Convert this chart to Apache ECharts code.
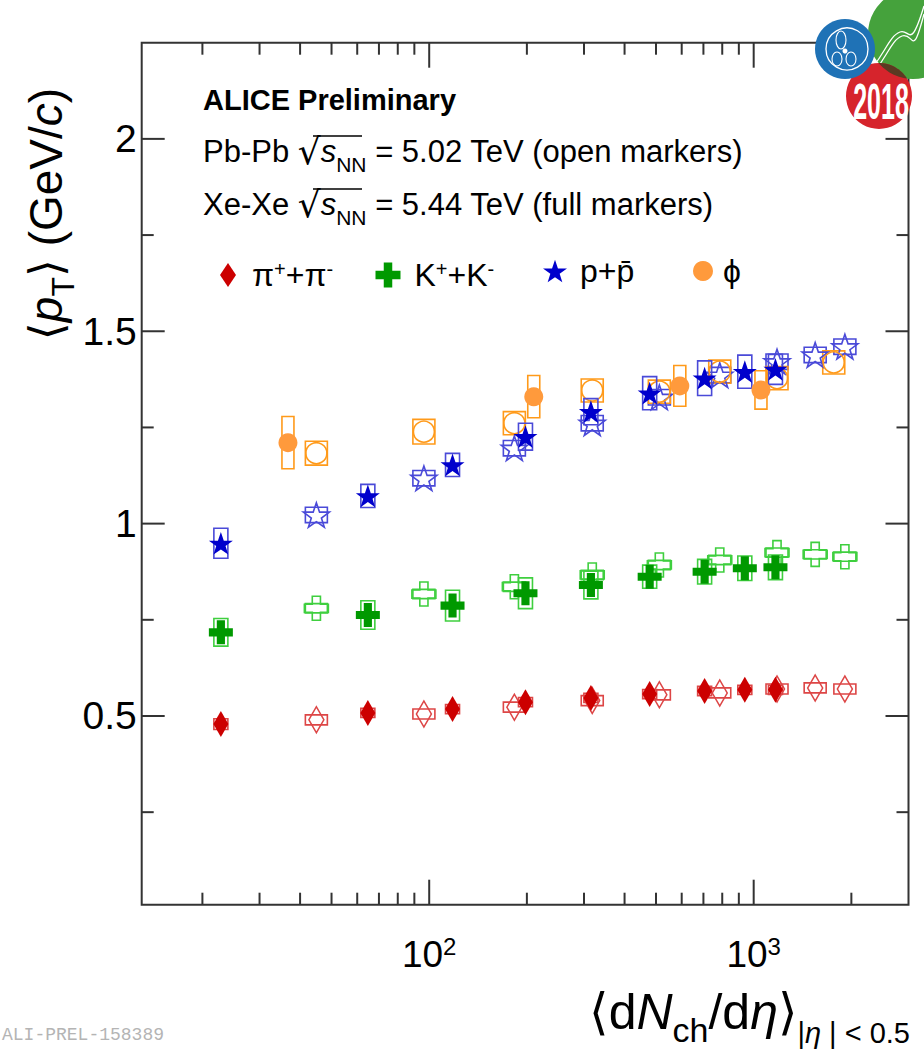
<!DOCTYPE html>
<html>
<head>
<meta charset="utf-8">
<script src="https://cdn.jsdelivr.net/npm/echarts@6/dist/echarts.min.js"></script>
<style>
  html, body { margin: 0; padding: 0; background: #ffffff; }
  #chart { width: 924px; height: 1049px; }
</style>
</head>
<body>
<div id="chart"></div>
<script>
// Charged-particle multiplicity <dNch/deta> of the centrality classes
const xeXeMult    = [22.8, 64.7, 118, 198, 315, 478, 706, 939, 1167];
const pbPbMult    = [44.9, 96.3, 183, 318, 512, 786, 1180, 1547, 1910];
const xeXePhiMult = [36.7, 210, 592, 1053];
const pbPbPhiMult = [44.9, 96.3, 183, 318, 512, 786, 1180, 1765];

// Mean transverse momentum <pT> (GeV/c) and systematic uncertainties
const piXeXe     = [0.479, 0.508, 0.518, 0.536, 0.547, 0.557, 0.565, 0.568, 0.568];
const piXeXeSys  = [0.014, 0.012, 0.012, 0.012, 0.012, 0.012, 0.012, 0.012, 0.012];
const piPbPb     = [0.490, 0.505, 0.523, 0.540, 0.555, 0.560, 0.570, 0.573, 0.570];
const piPbPbSys  = [0.013, 0.013, 0.013, 0.013, 0.013, 0.013, 0.013, 0.013, 0.013];

const kXeXe      = [0.7175, 0.7625, 0.787, 0.819, 0.8405, 0.862, 0.875, 0.884, 0.8865];
const kXeXeSys   = [0.036, 0.037, 0.040, 0.040, 0.036, 0.030, 0.032, 0.032, 0.032];
const kPbPb      = [0.780, 0.817, 0.836, 0.8665, 0.8925, 0.9055, 0.9245, 0.920, 0.914];
const kPbPbSys   = [0.012, 0.012, 0.012, 0.012, 0.012, 0.012, 0.012, 0.012, 0.012];

const pXeXe      = [0.949, 1.072, 1.1525, 1.226, 1.291, 1.339, 1.378, 1.395, 1.401];
const pXeXeSys   = [0.039, 0.030, 0.030, 0.035, 0.034, 0.043, 0.045, 0.043, 0.039];
const pPbPb      = [1.0225, 1.118, 1.196, 1.261, 1.3285, 1.386, 1.421, 1.4385, 1.460];
const pPbPbSys   = [0.020, 0.020, 0.020, 0.020, 0.020, 0.020, 0.020, 0.020, 0.020];

const phiXeXe    = [1.2105, 1.330, 1.358, 1.3475];
const phiXeXeSys = [0.068, 0.055, 0.053, 0.050];
const phiPbPb    = [1.183, 1.239, 1.261, 1.346, 1.343, 1.395, 1.378, 1.419];
const phiPbPbSys = [0.031, 0.032, 0.030, 0.030, 0.030, 0.030, 0.030, 0.030];

// Axis ranges and ticks
const X_MIN = 13, X_MAX = 3000;
const Y_MIN = 0.0095, Y_MAX = 2.25;
const xMajorTicks = [100, 1000];
const xMinorTicks = [20, 30, 40, 50, 60, 70, 80, 90, 200, 300, 400, 500, 600, 700, 800, 900, 2000];
const yMajorTicks = [0.5, 1, 1.5, 2];
const yMinorTicks = [0.25, 0.75, 1.25, 1.75];

const FONT = '"Liberation Sans", Arial, Helvetica, sans-serif';
const FRAME = '#333333';

const COLORS = {
  pi:  { full: '#cc0000', open: '#dd4646' },
  k:   { full: '#009900', open: '#3fcf3f' },
  p:   { full: '#0000cc', open: '#4a4ad8' },
  phi: { full: '#ff9a3c', open: '#ff9a1a' }
};

const STAR  = 'path://M50,0 L61.8,35.1 L98.1,35.1 L68.7,56.9 L79.4,91 L50,70.1 L20.6,91 L31.3,56.9 L1.9,35.1 L38.2,35.1 Z';
const CROSS = 'path://M33,0 L67,0 L67,33 L100,33 L100,67 L67,67 L67,100 L33,100 L33,67 L0,67 L0,33 L33,33 Z';

function points(xs, ys) { return xs.map((x, i) => [x, ys[i]]); }

// systematic uncertainty boxes, fixed width in pixels
function sysBoxes(name, xs, ys, es, color, width, z) {
  return {
    type: 'custom', name: name, silent: true, z: z, clip: false,
    data: xs.map((x, i) => [x, ys[i], es[i]]),
    renderItem: function (params, api) {
      const x = api.value(0), y = api.value(1), e = api.value(2);
      const top = api.coord([x, y + e]);
      const bot = api.coord([x, y - e]);
      return {
        type: 'rect',
        shape: { x: top[0] - width / 2, y: top[1], width: width, height: bot[1] - top[1] },
        style: { fill: 'none', stroke: color, lineWidth: 1.6 }
      };
    }
  };
}

function markers(name, xs, ys, symbol, size, color, open, z) {
  return {
    type: 'scatter', name: name, silent: true, z: z,
    data: points(xs, ys),
    symbol: symbol, symbolSize: size, symbolKeepAspect: true,
    itemStyle: open
      ? { color: 'rgba(255,255,255,0)', borderColor: color, borderWidth: 1.6, opacity: 1 }
      : { color: color, borderWidth: 0, opacity: 1 }
  };
}

// tick marks on all four sides of the frame
const xTickData = xMajorTicks.map(v => [v, 1, 25]).concat(xMinorTicks.map(v => [v, 1, 12]));
const yTickData = yMajorTicks.map(v => [100, v, 23]).concat(yMinorTicks.map(v => [100, v, 12]));

const tickSeriesX = {
  type: 'custom', silent: true, z: 20, clip: false, data: xTickData,
  renderItem: function (params, api) {
    const v = api.value(0), len = api.value(2);
    const b = api.coord([v, Y_MIN]), t = api.coord([v, Y_MAX]);
    const st = { stroke: FRAME, lineWidth: 2 };
    return { type: 'group', children: [
      { type: 'line', shape: { x1: b[0], y1: b[1], x2: b[0], y2: b[1] - len }, style: st },
      { type: 'line', shape: { x1: t[0], y1: t[1], x2: t[0], y2: t[1] + len }, style: st }
    ]};
  }
};
const tickSeriesY = {
  type: 'custom', silent: true, z: 20, clip: false, data: yTickData,
  renderItem: function (params, api) {
    const v = api.value(1), len = api.value(2);
    const l = api.coord([X_MIN, v]), r = api.coord([X_MAX, v]);
    const st = { stroke: FRAME, lineWidth: 2 };
    return { type: 'group', children: [
      { type: 'line', shape: { x1: l[0], y1: l[1], x2: l[0] + len, y2: l[1] }, style: st },
      { type: 'line', shape: { x1: r[0], y1: r[1], x2: r[0] - len, y2: r[1] }, style: st }
    ]};
  }
};

const series = [
  tickSeriesX, tickSeriesY,
  // Pb-Pb (open markers)
  sysBoxes('pi-PbPb-sys',  pbPbMult, piPbPb, piPbPbSys, COLORS.pi.open, 22, 3),
  sysBoxes('k-PbPb-sys',   pbPbMult, kPbPb,  kPbPbSys,  COLORS.k.open, 22, 3),
  sysBoxes('p-PbPb-sys',   pbPbMult, pPbPb,  pPbPbSys,  COLORS.p.open, 22, 3),
  sysBoxes('phi-PbPb-sys', pbPbPhiMult, phiPbPb, phiPbPbSys, COLORS.phi.open, 22, 3),
  markers('pi-PbPb',  pbPbMult, piPbPb, 'diamond', [15, 26], COLORS.pi.open, true, 4),
  markers('k-PbPb',   pbPbMult, kPbPb,  CROSS, 24, COLORS.k.open, true, 4),
  markers('p-PbPb',   pbPbMult, pPbPb,  STAR, 26, COLORS.p.open, true, 4),
  markers('phi-PbPb', pbPbPhiMult, phiPbPb, 'circle', 21, COLORS.phi.open, true, 4),
  // Xe-Xe (full markers)
  sysBoxes('pi-XeXe-sys',  xeXeMult, piXeXe, piXeXeSys, COLORS.pi.open, 14, 5),
  sysBoxes('k-XeXe-sys',   xeXeMult, kXeXe,  kXeXeSys,  COLORS.k.open, 14, 5),
  sysBoxes('p-XeXe-sys',   xeXeMult, pXeXe,  pXeXeSys,  COLORS.p.open, 14, 5),
  sysBoxes('phi-XeXe-sys', xeXePhiMult, phiXeXe, phiXeXeSys, COLORS.phi.open, 12, 5),
  markers('pi',  xeXeMult, piXeXe, 'diamond', [15, 26], COLORS.pi.full, false, 6),
  markers('k',   xeXeMult, kXeXe,  CROSS, 24, COLORS.k.full, false, 6),
  markers('p',   xeXeMult, pXeXe,  STAR, 24, COLORS.p.full, false, 6),
  markers('phi', xeXePhiMult, phiXeXe, 'circle', 19, COLORS.phi.full, false, 6)
];

// legend rich text
const legendRich = {
  m:  { fontSize: 32, fontFamily: FONT, color: '#000', lineHeight: 40 },
  u:  { fontSize: 20, fontFamily: FONT, color: '#000', lineHeight: 20, verticalAlign: 'top', padding: [4, 0, 0, 0] }
};
const legendLabels = {
  pi:  '{m|\u03c0}{u|+}{m|+\u03c0}{u|-}',
  k:   '{m|K}{u|+}{m|+K}{u|-}',
  p:   '{m|p+p\u0304}',
  phi: '{m|\u03d5}'
};
function legendItem(name, left, w, h, pad) {
  return {
    data: [name], left: left, top: 250, orient: 'horizontal',
    itemWidth: w, itemHeight: h, selectedMode: false,
    formatter: n => legendLabels[n],
    textStyle: { fontSize: 32, fontFamily: FONT, color: '#000', padding: [0, 0, 0, pad], rich: legendRich }
  };
}

// logo geometry: overlap of the green and red discs as a polygon
function lensPoints(c1, r1, c2, r2) {
  const dx = c2[0] - c1[0], dy = c2[1] - c1[1], d = Math.hypot(dx, dy);
  const a = (r1 * r1 - r2 * r2 + d * d) / (2 * d), h = Math.sqrt(r1 * r1 - a * a);
  const base = Math.atan2(dy, dx);
  const t1 = Math.atan2(h, a);          // half-angle seen from c1
  const t2 = Math.atan2(h, d - a);      // half-angle seen from c2
  const pts = [];
  for (let k = 0; k <= 16; k++) {
    const ang = base - t1 + (2 * t1) * k / 16;
    pts.push([c1[0] + r1 * Math.cos(ang), c1[1] + r1 * Math.sin(ang)]);
  }
  for (let k = 0; k <= 16; k++) {
    const ang = base + Math.PI - t2 + (2 * t2) * k / 16;
    pts.push([c2[0] + r2 * Math.cos(ang), c2[1] + r2 * Math.sin(ang)]);
  }
  return pts;
}
const GREEN_C = [913, 34], GREEN_R = 45;
const RED_C = [879, 96], RED_R = 33;
const BLUE_C = [845, 49], BLUE_R = 30;

const textRich = {
  t:   { fontSize: 31, fontFamily: FONT, fill: '#000', lineHeight: 48 },
  r:   { fontSize: 36, fontFamily: '"DejaVu Sans", sans-serif', fill: '#000', lineHeight: 48 },
  i:   { fontSize: 31, fontFamily: FONT, fontStyle: 'italic', fill: '#000', lineHeight: 48 },
  sub: { fontSize: 21, fontFamily: FONT, fill: '#000', lineHeight: 21, verticalAlign: 'bottom' }
};
// y-axis title
const titleRich = {
  t:   { fontSize: 46, fontFamily: FONT, fill: '#000', lineHeight: 66 },
  a:   { fontSize: 46, fontFamily: '"DejaVu Sans", sans-serif', fill: '#000', lineHeight: 66 },
  i:   { fontSize: 46, fontFamily: FONT, fontStyle: 'italic', fill: '#000', lineHeight: 66 },
  sub: { fontSize: 32, fontFamily: FONT, fill: '#000', lineHeight: 32, verticalAlign: 'bottom' }
};
// x-axis title
const xTitleRich = {
  t:   { fontSize: 50, fontFamily: FONT, fill: '#000', lineHeight: 70 },
  a:   { fontSize: 50, fontFamily: '"DejaVu Sans", sans-serif', fill: '#000', lineHeight: 70 },
  i:   { fontSize: 50, fontFamily: FONT, fontStyle: 'italic', fill: '#000', lineHeight: 70 },
  sub: { fontSize: 34, fontFamily: FONT, fill: '#000', lineHeight: 34, verticalAlign: 'bottom' },
  s2:  { fontSize: 29, fontFamily: FONT, fill: '#000', lineHeight: 29, verticalAlign: 'bottom' },
  si:  { fontSize: 29, fontFamily: FONT, fontStyle: 'italic', fill: '#000', lineHeight: 29, verticalAlign: 'bottom' }
};

function wave(p0, c1, c2, p1) {
  return { type: 'bezierCurve', z: 61,
    shape: { x1: p0[0], y1: p0[1], cpx1: c1[0], cpy1: c1[1], cpx2: c2[0], cpy2: c2[1], x2: p1[0], y2: p1[1] },
    style: { fill: 'none', stroke: '#ffffff', lineWidth: 1.3 } };
}

const graphic = [
  { type: 'text', x: 203, y: 100, z: 50,
    style: { text: 'ALICE Preliminary', font: 'bold 29px ' + FONT, fill: '#000', verticalAlign: 'middle' } },
  { type: 'text', x: 203, y: 151, z: 50,
    style: { text: '{t|Pb-Pb }{r|\u221a}{i|s}{sub|NN}{t| = 5.02 TeV (open markers)}', rich: textRich, verticalAlign: 'middle' } },
  { type: 'text', x: 203, y: 204, z: 50,
    style: { text: '{t|Xe-Xe }{r|\u221a}{i|s}{sub|NN}{t| = 5.44 TeV (full markers)}', rich: textRich, verticalAlign: 'middle' } },
  { type: 'line', z: 50, shape: { x1: 313, y1: 136, x2: 362, y2: 136 }, style: { stroke: '#000', lineWidth: 1.5 } },
  { type: 'line', z: 50, shape: { x1: 313, y1: 189, x2: 362, y2: 189 }, style: { stroke: '#000', lineWidth: 1.5 } },

  // axis titles
  { type: 'text', x: 910, y: 1012, z: 50,
    style: { text: '{a|\u27e8}{t|d}{i|N}{sub|ch}{t|/d}{i|\u03b7}{a|\u27e9}{s2||}{si|\u03b7}{s2| | < 0.5}',
             rich: xTitleRich, align: 'right', verticalAlign: 'middle' } },
  { type: 'text', x: 46, y: 214, rotation: Math.PI / 2, z: 50,
    style: { text: '{a|\u27e8}{i|p}{sub|T}{a|\u27e9}{t| (GeV/}{i|c}{t|)}',
             rich: titleRich, align: 'center', verticalAlign: 'middle' } },

  // preliminary figure id
  { type: 'text', x: 2, y: 1026, z: 50,
    style: { text: 'ALI-PREL-158389', font: '18px "Liberation Mono", monospace', fill: '#b4b4b4', verticalAlign: 'top' } },

  // conference logo
  { type: 'circle', z: 60, shape: { cx: GREEN_C[0], cy: GREEN_C[1], r: GREEN_R }, style: { fill: '#45a23c' } },
  wave([866, 80], [884, 66], [890, 40], [902, 36]),
  wave([902, 36], [914, 32], [912, 60], [924, 14]),
  wave([864, 76], [882, 62], [888, 36], [900, 32]),
  wave([900, 32], [910, 28], [910, 52], [924, 6]),
  { type: 'circle', z: 62, shape: { cx: RED_C[0], cy: RED_C[1], r: RED_R }, style: { fill: '#d6242c' } },
  { type: 'polygon', z: 63, shape: { points: lensPoints(GREEN_C, GREEN_R, RED_C, RED_R) }, style: { fill: '#5a3a22' } },
  { type: 'circle', z: 64, shape: { cx: BLUE_C[0], cy: BLUE_C[1], r: BLUE_R }, style: { fill: '#1f72b6' } },
  { type: 'circle', z: 65, shape: { cx: BLUE_C[0] + 2, cy: BLUE_C[1], r: 21 }, style: { fill: 'none', stroke: '#ffffff', lineWidth: 1.3 } },
  { type: 'ellipse', z: 65, shape: { cx: BLUE_C[0] - 4, cy: BLUE_C[1] - 9, rx: 5, ry: 9 }, style: { fill: 'none', stroke: '#ffffff', lineWidth: 1.1 } },
  { type: 'ellipse', z: 65, shape: { cx: BLUE_C[0] - 8, cy: BLUE_C[1] + 10, rx: 5, ry: 7 }, style: { fill: 'none', stroke: '#ffffff', lineWidth: 1.1 } },
  { type: 'ellipse', z: 65, shape: { cx: BLUE_C[0] + 6, cy: BLUE_C[1] + 10, rx: 5, ry: 7 }, style: { fill: 'none', stroke: '#ffffff', lineWidth: 1.1 } },
  { type: 'circle', z: 65, shape: { cx: BLUE_C[0], cy: BLUE_C[1] + 2, r: 2.5 }, style: { fill: '#ffffff' } },
  { type: 'text', x: 881, y: 101, z: 66, scaleX: 0.5,
    style: { text: '2018', font: 'bold 50px ' + FONT, fill: '#ffffff', align: 'center', verticalAlign: 'middle' } }
];

const option = {
  animation: false,
  textStyle: { fontFamily: FONT },
  grid: {
    left: 141.7, right: 924 - 908.5, top: 42.7, bottom: 1049 - 904.7,
    show: true, borderColor: FRAME, borderWidth: 2, backgroundColor: 'rgba(0,0,0,0)'
  },
  xAxis: {
    type: 'log', logBase: 10, min: X_MIN, max: X_MAX,
    axisLine: { show: false }, axisTick: { show: false }, splitLine: { show: false },
    axisLabel: {
      customValues: xMajorTicks, margin: 30,
      formatter: v => '{b|10}{s|' + Math.round(Math.log10(v)) + '}',
      rich: {
        b: { fontSize: 37, fontFamily: FONT, color: '#000', lineHeight: 40 },
        s: { fontSize: 24, fontFamily: FONT, color: '#000', lineHeight: 24, verticalAlign: 'top' }
      }
    }
  },
  yAxis: {
    type: 'value', min: Y_MIN, max: Y_MAX,
    axisLine: { show: false }, axisTick: { show: false }, splitLine: { show: false },
    axisLabel: {
      customValues: yMajorTicks, margin: 5,
      formatter: v => String(v),
      fontSize: 39, fontFamily: FONT, color: '#000'
    }
  },
  legend: [
    legendItem('pi', 215, 16, 24, 11),
    legendItem('k', 370.5, 25, 25, 9),
    legendItem('p', 538, 24, 24, 8),
    legendItem('phi', 688, 20, 20, 5)
  ],
  graphic: graphic,
  series: series
};

const chart = echarts.init(document.getElementById('chart'), null, { renderer: 'svg' });
chart.setOption(option);
</script>
</body>
</html>
